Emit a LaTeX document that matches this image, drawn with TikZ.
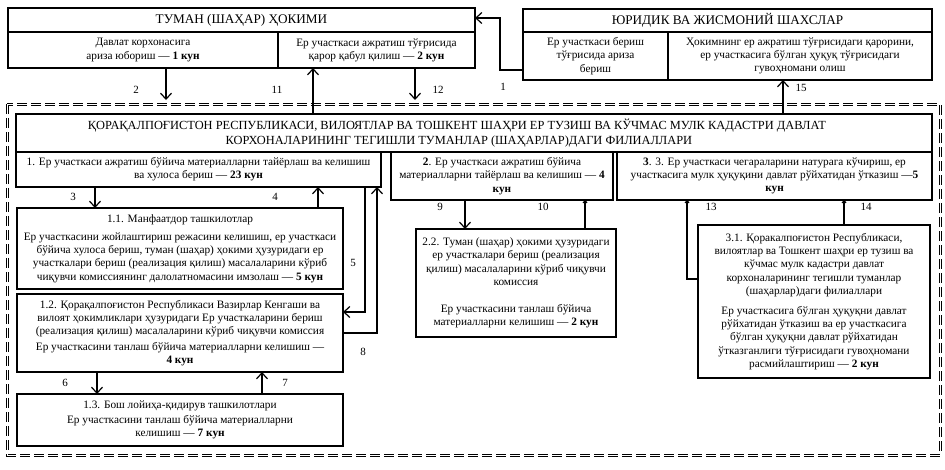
\documentclass[tikz,border=0pt]{standalone}
\usepackage{fontspec}
\setmainfont{Liberation Serif}
\usetikzlibrary{arrows.meta}

\begin{document}
\begin{tikzpicture}[x=1pt, y=-1pt, >={Straight Barb[length=6pt,width=11pt]}]
        \tikzstyle{box}=[draw, line width=1.4pt, anchor=north west, align=center, inner sep=1pt, outer sep=0pt, font=\fontsize{11.3}{13.2}\selectfont]
        \tikzstyle{head}=[box, font=\fontsize{13.2}{15}\selectfont]
        \tikzstyle{num}=[font=\fontsize{11}{13}\selectfont]
        \tikzstyle{arr}=[->, line width=1.2pt]
        \tikzstyle{link}=[-{Straight Barb[length=2pt,width=4pt]}, line width=1.2pt]
        \useasboundingbox (0,0) rectangle (945,469);
        \draw[double, double distance=1pt, line width=1pt, dash pattern=on 10pt off 4pt] (7,104) rectangle (940,455);
        \node[head, minimum width=467, minimum height=24] (tuman) at (8,8) {ТУМАН (ШАҲАР) ҲОКИМИ};
        \node[box, minimum width=270, minimum height=36] (tuman1) at (tuman.south west) {Давлат корхонасига\\ариза юбориш — \textbf{1 кун}};
        \node[box, minimum width=197, minimum height=36] (tuman2) at (tuman1.north east) {Ер участкаси ажратиш тўғрисида\\қарор қабул қилиш — \textbf{2 кун}};
        \node[head, minimum width=409, minimum height=23] (yur) at (523,9) {ЮРИДИК ВА ЖИСМОНИЙ ШАХСЛАР};
        \node[box, minimum width=145, minimum height=48] (yur1) at (yur.south west) {Ер участкаси бериш\\тўғрисида ариза\\бериш};
        \node[box, minimum width=264, minimum height=48] (yur2) at (yur1.north east) {Ҳокимнинг ер ажратиш тўғрисидаги қарорини,\\ер участкасига бўлган ҳуқуқ тўғрисидаги\\гувоҳномани олиш};
        \node[box, font=\fontsize{12.4}{15}\selectfont, minimum width=916, minimum height=38] (filial) at (16,114) {ҚОРАҚАЛПОҒИСТОН РЕСПУБЛИКАСИ, ВИЛОЯТЛАР ВА ТОШКЕНТ ШАҲРИ ЕР ТУЗИШ ВА КЎЧМАС МУЛК КАДАСТРИ ДАВЛАТ\hspace*{34pt}\\КОРХОНАЛАРИНИНГ ТЕГИШЛИ ТУМАНЛАР (ШАҲАРЛАР)ДАГИ ФИЛИАЛЛАРИ\hspace*{30pt}};
        \node[box, minimum width=365, minimum height=35] (b1) at (filial.south west) {1. Ер участкаси ажратиш бўйича материалларни тайёрлаш ва келишиш\\ва хулоса бериш — \textbf{23 кун}};
        \node[box, minimum width=222, minimum height=48] (b2) at ([xshift=375pt]filial.south west) {\textbf{2}. Ер участкаси ажратиш бўйича\\материалларни тайёрлаш ва келишиш — \textbf{4}\\\textbf{кун}};
        \node[box, minimum width=315, minimum height=48, anchor=north east] (b3) at (filial.south east) {\textbf{3}. 3. Ер участкаси чегараларини натурага кўчириш, ер\\участкасига мулк ҳуқуқини давлат рўйхатидан ўтказиш —\textbf{5}\\\textbf{кун}};
        \node[box, minimum width=326, minimum height=81] (b11) at (17,208) {1.1. Манфаатдор ташкилотлар\\[5pt]Ер участкасини жойлаштириш режасини келишиш, ер участкаси\\бўйича хулоса бериш, туман (шаҳар) ҳокими ҳузуридаги ер\\участкалари бериш (реализация қилиш) масалаларини кўриб\\чиқувчи комиссиянинг далолатномасини имзолаш — \textbf{5 кун}};
        \node[box, minimum width=326, minimum height=78] (b12) at (17,294) {1.2. Қорақалпоғистон Республикаси Вазирлар Кенгаши ва\\вилоят ҳокимликлари ҳузуридаги Ер участкаларини бериш\\(реализация қилиш) масалаларини кўриб чиқувчи комиссия\\[2pt]Ер участкасини танлаш бўйича материалларни келишиш —\\\textbf{4 кун}};
        \node[box, minimum width=326, minimum height=52] (b13) at (17,394) {1.3. Бош лойиҳа-қидирув ташкилотлари\\[2pt]Ер участкасини танлаш бўйича материалларни\\келишиш — \textbf{7 кун}};
        \node[box, minimum width=200, minimum height=108] (b22) at (416,229) {2.2. Туман (шаҳар) ҳокими ҳузуридаги\\ер участкалари бериш (реализация\\қилиш) масалаларини кўриб чиқувчи\\комиссия\\[14pt]Ер участкасини танлаш бўйича\\материалларни келишиш — \textbf{2 кун}};
        \node[box, minimum width=232, minimum height=153] (b31) at (698,225) {3.1. Қоракалпоғистон Республикаси,\\вилоятлар ва Тошкент шаҳри ер тузиш ва\\кўчмас мулк кадастри давлат\\корхоналарининг тегишли туманлар\\(шаҳарлар)даги филиаллари\\[7pt]Ер участкасига бўлган ҳуқуқни давлат\\рўйхатидан ўтказиш ва ер участкасига\\бўлган ҳуқуқни давлат рўйхатидан\\ўтказганлиги тўғрисидаги гувоҳномани\\расмийлаштириш — \textbf{2 кун}};
        \coordinate (k1) at (500,70);
        \coordinate (k2) at (166,100);
        \coordinate (k11) at (313,0);
        \coordinate (k12) at (415,100);
        \coordinate (k15) at (783,0);
        \coordinate (k3) at (95,0);
        \coordinate (k4) at (318,0);
        \coordinate (k5) at (365,312);
        \coordinate (k8) at (377,0);
        \coordinate (k6) at (97,0);
        \coordinate (k7) at (262,0);
        \coordinate (k9) at (465,0);
        \coordinate (k10) at (585,0);
        \coordinate (k13) at (687,279);
        \coordinate (k14) at (844,0);
        \draw[arr] (yur1.west |- k1) -- (k1) |- ([yshift=2pt]tuman.east);
        \draw[arr] (tuman1.south -| k2) -- (k2);
        \draw[arr] (filial.north -| k11) -- (tuman2.south -| k11);
        \draw[arr] (tuman2.south -| k12) -- (k12);
        \draw[arr] (filial.north -| k15) -- (yur2.south -| k15);
        \draw[arr] (b1.south -| k3) -- (b11.north -| k3);
        \draw[arr] (b11.north -| k4) -- (b1.south -| k4);
        \draw[arr] (b1.south -| k5) -- (k5) -- (b12.east |- k5);
        \draw[arr] (b12.east) -| (b1.south -| k8);
        \draw[arr] (b12.south -| k6) -- (b13.north -| k6);
        \draw[arr] (b13.north -| k7) -- (b12.south -| k7);
        \draw[arr] (b2.south -| k9) -- (b22.north -| k9);
        \draw[link] (b22.north -| k10) -- (b2.south -| k10);
        \draw[link] (b31.west |- k13) -- (k13) -- (b3.south -| k13);
        \draw[link] (b31.north -| k14) -- (b3.south -| k14);
        \node[num] (l1) at (503,87) {1};
        \node[num] (l2) at (136,90) {2};
        \node[num] (l11) at (277,90) {11};
        \node[num] (l12) at (438,90) {12};
        \node[num] (l15) at (801,88) {15};
        \node[num] (l3) at (73,197) {3};
        \node[num] (l4) at (275,197) {4};
        \node[num] (l5) at (353,263) {5};
        \node[num] (l8) at (363,352) {8};
        \node[num] (l6) at (65,383) {6};
        \node[num] (l7) at (285,383) {7};
        \node[num] (l9) at (440,207) {9};
        \node[num] (l10) at (543,207) {10};
        \node[num] (l13) at (711,207) {13};
        \node[num] (l14) at (866,207) {14};
\end{tikzpicture}
\end{document}
